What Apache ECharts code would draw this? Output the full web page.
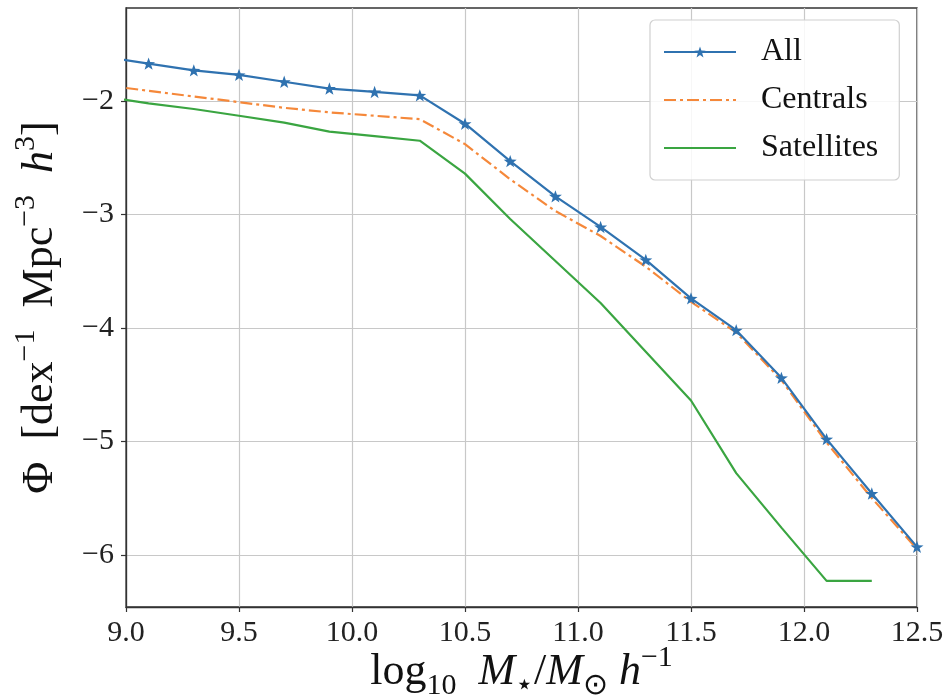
<!DOCTYPE html>
<html><head><meta charset="utf-8">
<script src="https://cdn.jsdelivr.net/npm/echarts@6/dist/echarts.min.js"></script>
<style>html,body{margin:0;padding:0;background:#fff}#c{width:947px;height:699px}</style>
</head><body><div id="c"></div>
<script>
// x positions (log10 stellar mass); first point lies just left of the visible range
const massBins = [8.9, 9.1, 9.3, 9.5, 9.7, 9.9, 10.1, 10.3, 10.5, 10.7, 10.9, 11.1, 11.3, 11.5, 11.7, 11.9, 12.1, 12.3, 12.5];
const allPhi = [-1.61, -1.67, -1.73, -1.77, -1.83, -1.89, -1.92, -1.95, -2.20, -2.53, -2.84, -3.11, -3.40, -3.74, -4.02, -4.44, -4.98, -5.46, -5.93];
const centralsPhi = [-1.86, -1.91, -1.96, -2.01, -2.06, -2.10, -2.13, -2.16, -2.38, -2.69, -2.97, -3.19, -3.46, -3.77, -4.04, -4.46, -5.01, -5.50, -5.95];
const satellitesPhi = [-1.96, -2.02, -2.07, -2.13, -2.19, -2.27, -2.31, -2.35, -2.64, -3.04, -3.41, -3.78, -4.21, -4.64, -5.28, -5.76, -6.23, -6.23];
const xTicks = [9.0, 9.5, 10.0, 10.5, 11.0, 11.5, 12.0, 12.5];
const yTicks = [-6, -5, -4, -3, -2];
const seriesNames = ['All', 'Centrals', 'Satellites'];

const pair = (xs, ys) => ys.map((y, i) => [xs[i], y]);
const FONT = 'Liberation Serif';
const star = 'path://M0,-10 L2.35,-3.24 L9.51,-3.09 L3.8,1.24 L5.88,8.09 L0,4 L-5.88,8.09 L-3.8,1.24 L-9.51,-3.09 L-2.35,-3.24 Z';

const LH = 58;
const richName = {
  n: {fontFamily: FONT, fontSize: 44, color: '#111', lineHeight: LH, verticalAlign: 'middle'},
  i: {fontFamily: FONT, fontSize: 44, color: '#111', fontStyle: 'italic', lineHeight: LH, verticalAlign: 'middle'},
  sub: {fontFamily: FONT, fontSize: 30, color: '#111', lineHeight: 30, verticalAlign: 'bottom'},
  sup: {fontFamily: FONT, fontSize: 30, color: '#111', lineHeight: 30, verticalAlign: 'top'}
};

const chart = echarts.init(document.getElementById('c'), null, {renderer: 'canvas'});
chart.setOption({
  animation: false,
  backgroundColor: '#fff',
  grid: {left: 126, right: 30, top: 8, bottom: 92, show: true, borderColor: '#333', borderWidth: 1.3,
         backgroundColor: 'transparent', containLabel: false, outerBoundsMode: 'none'},
  xAxis: {
    type: 'value', min: 9.0, max: 12.5, interval: 0.5,
    axisLine: {show: true, lineStyle: {color: '#333', width: 1.3}},
    axisTick: {show: true, length: 5, lineStyle: {color: '#333', width: 1.2}},
    axisLabel: {fontFamily: FONT, fontSize: 30, color: '#222', margin: 11,
      formatter: v => { const t = xTicks.find(x => Math.abs(x - v) < 1e-6); return t === undefined ? '' : t.toFixed(1); }},
    splitLine: {show: true, lineStyle: {color: '#c8c8c8', width: 1.2}},
    name: '{n|log}{sub|10}{n|  }{i|M}{sub|⋆}{n|/}{i|M}{sub|⊙}{n| }{i|h}{sup|−1}',
    nameLocation: 'middle', nameGap: 36, nameMoveOverlap: false,
    nameTextStyle: {rich: richName}
  },
  yAxis: {
    type: 'value', min: -6.46, max: -1.18, splitNumber: 5,
    axisLine: {show: true, lineStyle: {color: '#333', width: 1.3}},
    axisTick: {show: true, length: 5, customValues: yTicks, lineStyle: {color: '#333', width: 1.2}},
    axisLabel: {fontFamily: FONT, fontSize: 30, color: '#222', margin: 12, customValues: yTicks,
      formatter: v => { const t = yTicks.find(y => Math.abs(y - v) < 1e-6); return t === undefined ? '' : '\u2212' + Math.abs(t); }},
    splitLine: {show: true, lineStyle: {color: '#c8c8c8', width: 1.2}},
    name: '{n|Φ  [dex}{sup|−1}{n|  Mpc}{sup|−3}{n|  }{i|h}{sup|3}{n|]}',
    nameLocation: 'middle', nameGap: 57, nameRotate: 90,
    nameTextStyle: {rich: richName}
  },
  legend: {
    orient: 'vertical', left: 650, top: 20,
    padding: [16, 21, 16, 13], itemGap: 16, itemWidth: 72, itemHeight: 14,
    backgroundColor: 'rgba(255,255,255,0.85)', borderColor: '#d0d0d0', borderWidth: 1.2, borderRadius: 5,
    textStyle: {fontFamily: FONT, fontSize: 32, color: '#111', lineHeight: 32, padding: [0, 0, 0, 20]},
    data: [
      {name: seriesNames[0]},
      {name: seriesNames[1], itemStyle: {opacity: 0}},
      {name: seriesNames[2], itemStyle: {opacity: 0}}
    ]
  },
  series: [
    {name: seriesNames[0], type: 'line', data: pair(massBins, allPhi), clip: true,
     symbol: star, symbolSize: 13, symbolKeepAspect: true, showSymbol: true,
     lineStyle: {color: '#2f72b0', width: 2.2}, itemStyle: {color: '#2f72b0'}, z: 5},
    {name: seriesNames[1], type: 'line', data: pair(massBins, centralsPhi), clip: true,
     symbol: 'none', lineStyle: {color: '#f5883a', width: 2.2, type: [12, 4, 3, 4]}, itemStyle: {color: '#f5883a'}, z: 4},
    {name: seriesNames[2], type: 'line', data: pair(massBins, satellitesPhi), clip: true,
     symbol: 'none', lineStyle: {color: '#3aa541', width: 2.2}, itemStyle: {color: '#3aa541'}, z: 3}
  ]
});
</script></body></html>
